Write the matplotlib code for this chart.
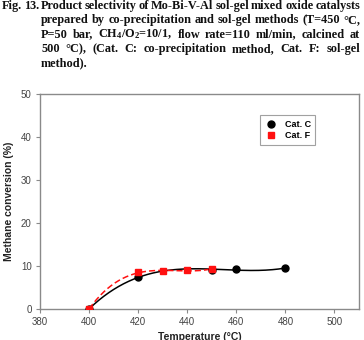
import numpy as np
import matplotlib
matplotlib.use("Agg")
import matplotlib.pyplot as plt

plt.rcParams["mathtext.fontset"] = "custom"
plt.rcParams["mathtext.rm"] = "Liberation Serif:bold"
plt.rcParams["mathtext.bf"] = "Liberation Serif:bold"
plt.rcParams["mathtext.it"] = "Liberation Serif:bold"

# --- data ---
temp_c = [400, 420, 450, 460, 480]
conv_c = [0.0, 7.4, 9.1, 9.2, 9.5]
temp_f = [400, 420, 430, 440, 450]
conv_f = [0.0, 8.5, 8.8, 9.0, 9.3]

x_ticks = [380, 400, 420, 440, 460, 480, 500]
y_ticks = [0, 10, 20, 30, 40, 50]

caption = [
    "Fig. 13. Product selectivity of Mo-Bi-V-Al sol-gel mixed oxide catalysts",
    "prepared by co-precipitation and sol-gel methods (T=450 °C,",
    "P=50 bar, CH$_4$/O$_2$=10/1, flow rate=110 ml/min, calcined at",
    "500 °C), (Cat. C: co-precipitation method, Cat. F: sol-gel",
    "method).",
]

W, H = 364, 340
fig = plt.figure(figsize=(W / 100, H / 100), dpi=100)
fig.patch.set_facecolor("white")

# --- caption, justified word by word ---
renderer = fig.canvas.get_renderer()
cap_kw = dict(family="Liberation Serif", fontweight="bold", color="#111")

# size the font so the first line's words fill its width with tight spaces
words0 = caption[0].split(" ")
probes = [fig.text(0, 0, w, fontsize=10, **cap_kw) for w in words0]
w10 = sum(p.get_window_extent(renderer).width for p in probes)
for p in probes:
    p.remove()
cap_size = 10 * (358 - 2.0 * (len(words0) - 1)) / w10

line_y = [6, 20, 34.5, 49, 63]
for i, (line, ypx) in enumerate(zip(caption, line_y)):
    x0 = 2 if i == 0 else 41
    x1 = 360
    words = line.split(" ")
    objs = [fig.text(0, 1 - ypx / H, w, ha="left", va="center",
                     fontsize=cap_size, **cap_kw) for w in words]
    widths = [o.get_window_extent(renderer).width for o in objs]
    if i < len(caption) - 1 and len(words) > 1:
        gap = (x1 - x0 - sum(widths)) / (len(words) - 1)
    else:
        gap = 2.5
    x = x0
    for o, w in zip(objs, widths):
        o.set_x(x / W)
        x += w + gap

# --- axes ---
ax = fig.add_axes([40 / W, (H - 309) / H, 319 / W, 215 / H])
grey = "#8a8a8a"
for s in ax.spines.values():
    s.set_color(grey)
    s.set_linewidth(1.0)

tc = np.linspace(min(temp_c), max(temp_c), 200)
ax.plot(tc, np.polyval(np.polyfit(temp_c, conv_c, 3), tc), color="black",
        lw=1.1, zorder=2)
tf = np.linspace(min(temp_f), max(temp_f), 200)
ax.plot(tf, np.polyval(np.polyfit(temp_f, conv_f, 3), tf), color="#ff1010",
        lw=1.1, ls=(0, (4, 2)), zorder=3)

ax.plot(temp_c, conv_c, "o", color="black", ms=5, label="Cat. C", zorder=4)
ax.plot(temp_f, conv_f, "s", color="#ff1010", ms=5, label="Cat. F", zorder=5)

ax.set_xlim(380, 510)
ax.set_ylim(0, 50)
ax.set_xticks(x_ticks)
ax.set_yticks(y_ticks)
ax.tick_params(direction="out", length=3, width=0.8, color=grey,
               labelsize=7, labelcolor="#444", pad=3)
for lab in ax.get_xticklabels() + ax.get_yticklabels():
    lab.set_family("Liberation Sans")

ax.set_xlabel("Temperature (°C)", family="Liberation Sans", fontweight="bold",
              fontsize=7.5, color="#222", labelpad=3)
ax.set_ylabel("Methane conversion (%)", family="Liberation Sans",
              fontweight="bold", fontsize=7.5, color="#222", labelpad=5)

leg = ax.legend(loc="upper left", bbox_to_anchor=(0.674, 0.921),
                prop={"family": "Liberation Sans", "weight": "bold", "size": 6.5},
                frameon=True, fancybox=False, handletextpad=0.8,
                borderpad=0.5, labelspacing=0.25, handlelength=1.5)
leg.get_frame().set_edgecolor(grey)
leg.get_frame().set_linewidth(0.8)

fig.savefig("out.png", dpi=100)
